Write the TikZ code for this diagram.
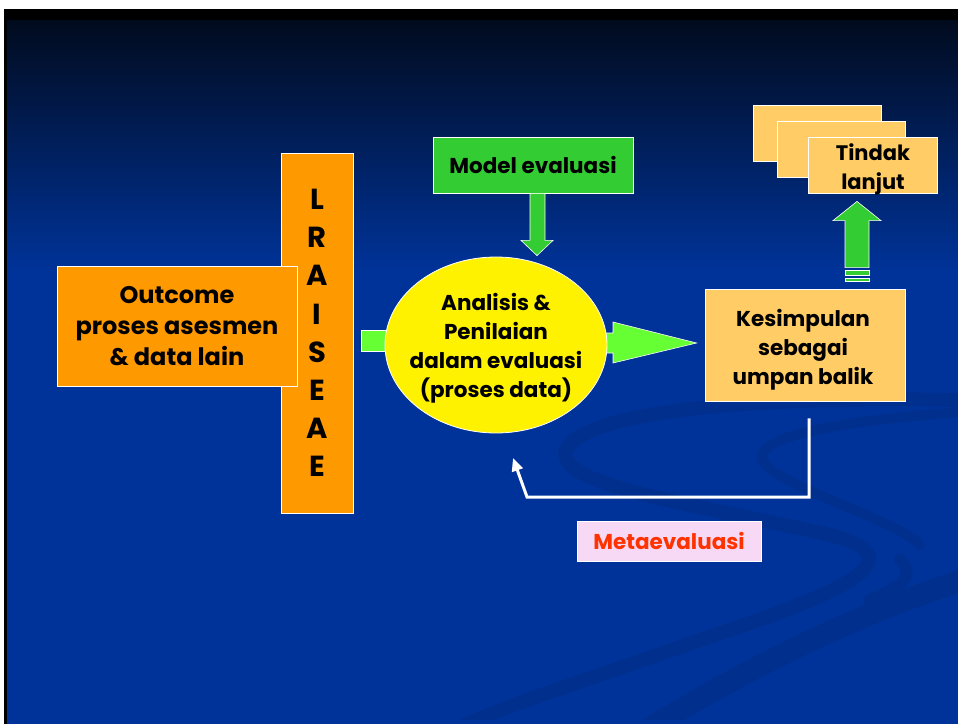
\documentclass[tikz,border=0pt]{standalone}
\usepackage{fontspec}
\setmainfont{Poppins}
\usetikzlibrary{shapes.geometric,calc,arrows.meta}
\definecolor{bgblue}{HTML}{003399}
\definecolor{topdark}{HTML}{010B1E}
\definecolor{swooshblue}{HTML}{002F8D}
\definecolor{boxorange}{HTML}{FF9900}
\definecolor{boxpeach}{HTML}{FFCC66}
\definecolor{midgreen}{HTML}{33CC33}
\definecolor{lightgreen}{HTML}{66FF33}
\definecolor{metapink}{HTML}{F7D9F5}
\definecolor{metared}{HTML}{FF3300}
\tikzset{
  panel/.style={draw=white, line width=0.8pt, inner sep=0pt, align=center, text=black},
  bigtext/.style={font=\bfseries\fontsize{24}{31}\selectfont},
  midtext/.style={font=\bfseries\fontsize{21.5}{29}\selectfont},
  plaintext/.style={inner sep=0pt, align=center, text=black},
  blockarrow/.style={draw=white, line width=0.6pt},
  swoosh/.style={draw=swooshblue, line cap=round},
}
\begin{document}
\begin{tikzpicture}[x=1pt,y=-1pt]
\useasboundingbox (0,0) rectangle (958,723);
% slide background
\fill[white] (0,0) rectangle (958,723);
\fill[black] (4,9) rectangle (965,735);
\shade[top color=topdark, bottom color=bgblue] (7,20) rectangle (965,272);
\fill[bgblue] (7,271) rectangle (965,735);
% decorative swooshes
\begin{scope}
\clip (7,272) rectangle (958,719);
\draw[swoosh, line width=14] (958,400) .. controls (760,396) and (585,410) .. (566,450)
  .. controls (552,485) and (700,505) .. (830,535)
  .. controls (930,560) and (820,600) .. (700,640)
  .. controls (560,690) and (470,715) .. (430,745);
\draw[swoosh, line width=10] (958,412) .. controls (860,420) and (770,432) .. (762,455)
  .. controls (755,480) and (900,520) .. (920,545);
\draw[swoosh, line width=22] (980,575) .. controls (860,610) and (720,680) .. (600,760);
\draw[swoosh, line width=12] (900,560) .. controls (915,575) and (905,585) .. (870,600);
\end{scope}
% left input block
\node[panel, fill=boxorange, minimum width=72, minimum height=360,
      font=\bfseries\fontsize{29}{38.2}\selectfont] (bar) at (317,333)
      {L\\R\\A\\I\\S\\E\\A\\E};
\node[panel, fill=boxorange, minimum width=240, minimum height=120, bigtext] (outcome) at (177,326)
      {Outcome\\proses asesmen\\\& data lain};
% stub entering the ellipse
\node[blockarrow, fill=lightgreen, minimum width=28, minimum height=21, inner sep=0pt] (stub) at (375,341) {};
% conclusion box
\node[panel, fill=boxpeach, minimum width=200, minimum height=112] (kes) at (805,345) {};
\node[plaintext, midtext] (kestext) at (803,350) {Kesimpulan\\sebagai\\umpan balik};
% right-pointing block arrow
\coordinate (rtip) at ($(kes.west)+(-8,-2)$);
\draw[blockarrow, fill=lightgreen] (590,333) -- (613,333) -- (613,322) -- (rtip) -- (613,363) -- (613,353) -- (590,353) -- cycle;
% central process
\node[ellipse, draw=white, line width=0.8pt, fill=yellow, minimum width=222, minimum height=176,
      inner sep=0pt] (analisis) at (496,345) {};
\node[plaintext, midtext] (analisistext) at (496,348)
      {Analisis \&\\Penilaian\\dalam evaluasi\\(proses data)};
% model box and down arrow
\node[panel, fill=midgreen, minimum width=200, minimum height=56, midtext] (model) at (533,165) {Model evaluasi};
\draw[blockarrow, fill=midgreen] ($(model.south)+(-3,0)$) -- ++(0,47) -- ++(-9,0)
  -- ($(analisis.north)+(41,-1)$) -- ($(model.south)+(20,47)$) -- ++(-8,0) -- ($(model.south)+(12,0)$) -- cycle;
% follow-up stack
\node[panel, fill=boxpeach, minimum width=128, minimum height=56] (t1) at (817,133) {};
\node[panel, fill=boxpeach, minimum width=128, minimum height=56] (t2) at (841,149) {};
\node[panel, fill=boxpeach, minimum width=129, minimum height=56] (t3) at (872.5,165) {};
\node[plaintext, font=\bfseries\fontsize{21}{29}\selectfont] (t3text) at (873,169) {Tindak\\lanjut};
% up arrow with stripes
\coordinate (ubase) at ($(kes.north)+(52,0)$);
\draw[blockarrow, fill=midgreen] ($(ubase)+(-12,-21)$) -- ($(ubase)+(-12,-68)$) -- ($(ubase)+(-24,-68)$)
  -- ($(t3.south)+(-15.5,8)$) -- ($(ubase)+(24,-68)$) -- ($(ubase)+(12,-68)$) -- ($(ubase)+(12,-21)$) -- cycle;
\draw[blockarrow, fill=midgreen] ($(ubase)+(-12,-18)$) rectangle ($(ubase)+(12,-13)$);
\draw[blockarrow, fill=midgreen] ($(ubase)+(-12,-10)$) rectangle ($(ubase)+(12,-7)$);
% feedback loop
\coordinate (fbstart) at ($(kes.south)+(4,17)$);
\coordinate (fbcorner) at (527,497);
\coordinate (fbtip) at (513,458);
\draw[white, line width=3pt, -{Triangle[width=11pt,length=13pt]}]
  (fbstart) |- (fbcorner) -- (fbtip);
\node[draw=white, line width=0.6pt, fill=metapink, minimum width=184, minimum height=40, inner sep=0pt,
      text=metared, font=\bfseries\fontsize{21.5}{26}\selectfont] (meta) at (669,541) {Metaevaluasi};
\end{tikzpicture}
\end{document}
